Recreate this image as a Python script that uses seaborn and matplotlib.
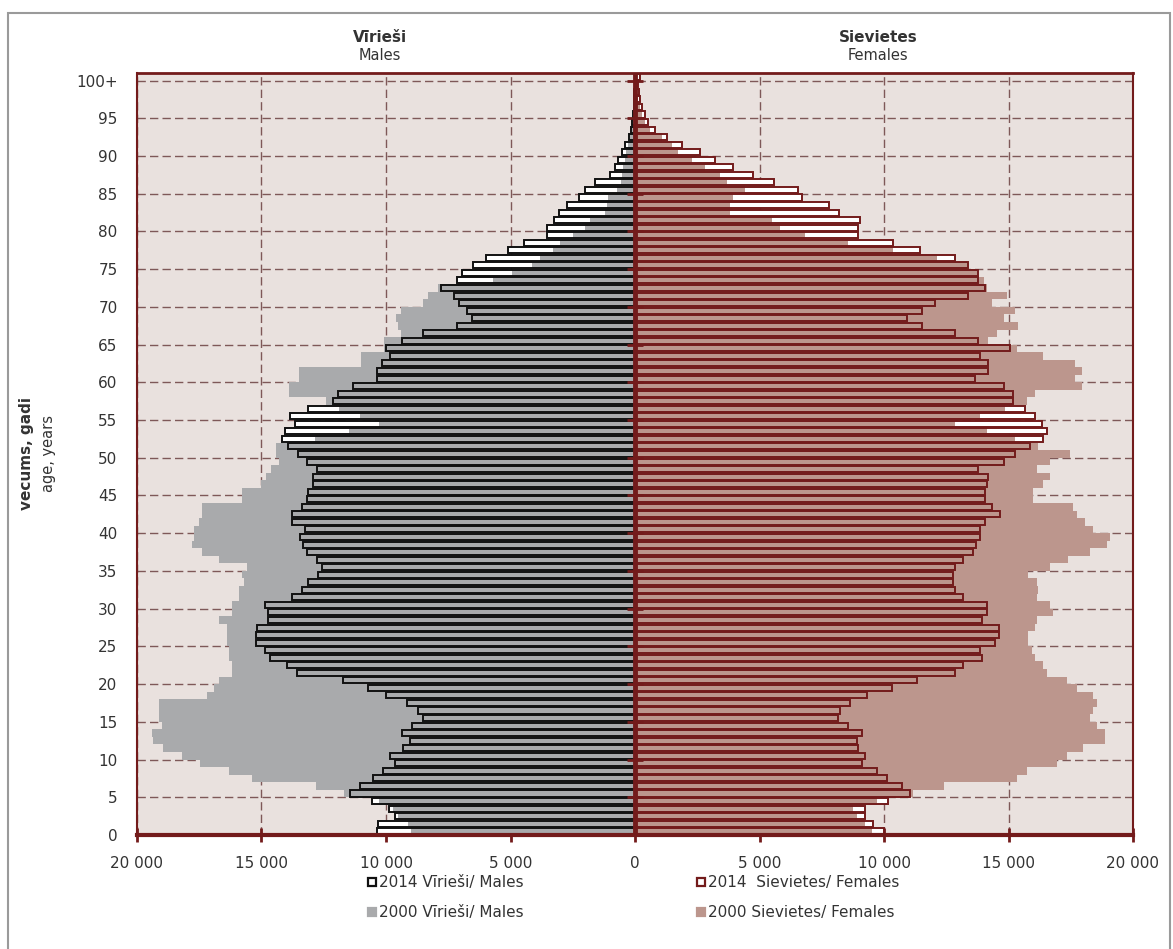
import seaborn as sns
import matplotlib.pyplot as plt
from matplotlib.patches import Rectangle

# population by single year of age, 0 .. 100+
ages = list(range(101))

males_2014 = [10380, 10310, 9640, 9870, 10580, 11450, 11050, 10510, 10110, 9640,
              9840, 9310, 9040, 9370, 8970, 8500, 8700, 9170, 9980, 10710,
              11720, 13590, 13990, 14660, 14860, 15220, 15220, 15200, 14730, 14730,
              14860, 13790, 13390, 13120, 12720, 12590, 12790, 13190, 13320, 13460,
              13260, 13790, 13790, 13390, 13190, 13120, 12920, 12920, 12790, 13190,
              13520, 13930, 14190, 14060, 13660, 13860, 13120, 12120, 11920, 11320,
              10380, 10380, 10180, 9840, 9980, 9370, 8500, 7160, 6560, 6760,
              7080, 7250, 7800, 7130, 6960, 6510, 5970, 5100, 4470, 3550,
              3550, 3250, 3040, 2750, 2260, 2000, 1620, 1000, 800, 670,
              540, 400, 240, 180, 130, 90, 60, 40, 25, 15, 20]

males_2000 = [9000, 9100, 9500, 9700, 10300, 11700, 12800, 15400, 16300, 17470,
              18200, 18950, 19350, 19400, 19000, 19100, 19100, 19100, 17200, 16900,
              16700, 16200, 16200, 16300, 16300, 16400, 16400, 16400, 16700, 16200,
              16200, 15900, 15900, 15700, 15800, 15600, 16700, 17400, 17800, 17700,
              17700, 17500, 17400, 17400, 15800, 15800, 15000, 14800, 14600, 14300,
              14400, 14400, 12850, 11500, 10300, 11050, 11900, 12400, 13900, 13900,
              13500, 13500, 11000, 11000, 10100, 10100, 9400, 9500, 9600, 9400,
              8500, 8300, 7900, 5690, 4950, 4150, 3820, 3280, 3010, 2480,
              2010, 1810, 1200, 1140, 1070, 740, 560, 520, 480, 420,
              350, 280, 200, 140, 95, 65, 40, 25, 15, 10, 10]

females_2014 = [9980, 9570, 9240, 9240, 10180, 11050, 10710, 10110, 9710, 9100,
                9240, 8970, 8900, 9100, 8570, 8170, 8230, 8640, 9310, 10310,
                11310, 12850, 13190, 13930, 13860, 14460, 14600, 14600, 13930, 14130,
                14130, 13190, 12850, 12790, 12790, 12850, 13190, 13590, 13690, 13860,
                13860, 14060, 14660, 14330, 14060, 14060, 14130, 14190, 13790, 14800,
                15260, 15870, 16400, 16540, 16340, 16070, 15670, 15200, 15200, 14800,
                13660, 14190, 14190, 13860, 15060, 13790, 12850, 11520, 10910, 11520,
                12050, 13390, 14060, 13790, 13790, 13390, 12850, 11450, 10350, 8970,
                8970, 9040, 8210, 7810, 6700, 6560, 5580, 4750, 3920, 3210,
                2610, 1875, 1300, 800, 535, 400, 300, 220, 160, 120, 200]

females_2000 = [9500, 9240, 8900, 8770, 9700, 11180, 12390, 15330, 15730, 16940,
                17340, 18010, 18880, 18880, 18550, 18280, 18410, 18550, 18410, 17740,
                17340, 16540, 16400, 16070, 15930, 15800, 15800, 16070, 16130, 16800,
                16670, 16130, 16200, 16130, 15800, 16670, 17400, 18280, 18950, 19080,
                18410, 18080, 17740, 17600, 16000, 16000, 16400, 16670, 16130, 16670,
                17470, 16200, 15260, 14130, 12850, 13860, 14860, 15730, 16070, 17940,
                17670, 17940, 17670, 16400, 15330, 14190, 14530, 15400, 14800, 15260,
                14330, 14930, 14130, 14000, 13730, 13320, 12120, 10380, 8570, 6830,
                5820, 5490, 3820, 3820, 3950, 4420, 3680, 3410, 2810, 2280,
                1740, 1470, 1070, 600, 400, 280, 200, 130, 80, 50, 30]

age_ticks = list(range(0, 101, 5))
age_labels = [str(a) for a in age_ticks[:-1]] + ["100+"]
x_ticks = list(range(-20000, 20001, 5000))

dark_red = "#731B1B"
grey = "#A9AAAC"
rose = "#BC968D"
text_col = "#333333"

W, H = 1173, 949
fig = plt.figure(figsize=(W / 100, H / 100), dpi=100)
ax = fig.add_axes([137 / W, 1 - 835 / H, 996 / W, 762 / H])
ax.set_facecolor("#E9E1DE")

m14 = [-v for v in males_2014]
m00 = [-v for v in males_2000]

# white fill of the 2014 bars, then the 2000 bars, then 2014 outlines on top
for vals in (m14, females_2014):
    sns.barplot(x=vals, y=ages, orient="h", native_scale=True, width=0.8,
                color="white", saturation=1, errorbar=None, linewidth=0,
                ax=ax, zorder=2)
sns.barplot(x=m00, y=ages, orient="h", native_scale=True, width=1.0,
            color=grey, saturation=1, errorbar=None, linewidth=0, ax=ax, zorder=3)
sns.barplot(x=females_2000, y=ages, orient="h", native_scale=True, width=1.0,
            color=rose, saturation=1, errorbar=None, linewidth=0, ax=ax, zorder=3)
sns.barplot(x=m14, y=ages, orient="h", native_scale=True, width=0.8,
            color="#111111", fill=False, saturation=1, errorbar=None,
            linewidth=1.4, ax=ax, zorder=4)
sns.barplot(x=females_2014, y=ages, orient="h", native_scale=True, width=0.8,
            color=dark_red, fill=False, saturation=1, errorbar=None,
            linewidth=1.4, ax=ax, zorder=4)

ax.set_xlim(-20000, 20000)
ax.set_ylim(-0.5, 100.5)
ax.set_yticks([a - 0.5 for a in age_ticks])
ax.set_yticklabels(age_labels)
ax.set_xticks(x_ticks)
ax.set_xticklabels([f"{abs(v):,}".replace(",", " ") for v in x_ticks])
ax.set_xlabel("")
ax.set_ylabel("")

ax.set_axisbelow(True)
ax.grid(True, linestyle=(0, (6, 3)), color="#7E5858", linewidth=1.0)

ax.axvline(0, color=dark_red, lw=3.5, zorder=6)
ax.plot([0] * len(age_ticks), [a - 0.5 for a in age_ticks], ls="none",
        marker="_", ms=12, mew=2, color=dark_red, zorder=7)

for side, lw in (("top", 2), ("left", 1.5), ("right", 1.5), ("bottom", 3)):
    ax.spines[side].set_color(dark_red)
    ax.spines[side].set_linewidth(lw)
    ax.spines[side].set_zorder(8)

ax.tick_params(axis="x", direction="inout", length=10, width=2, color=dark_red,
               labelsize=11, labelcolor=text_col, pad=10)
ax.tick_params(axis="y", length=0, labelsize=11, labelcolor=text_col, pad=14)

# headers
fig.text(380 / W, 1 - 37 / H, "Vīrieši", ha="center", va="center",
         fontsize=11, fontweight="bold", color=text_col)
fig.text(380 / W, 1 - 56 / H, "Males", ha="center", va="center",
         fontsize=10.5, color=text_col)
fig.text(878 / W, 1 - 37 / H, "Sievietes", ha="center", va="center",
         fontsize=11, fontweight="bold", color=text_col)
fig.text(878 / W, 1 - 56 / H, "Females", ha="center", va="center",
         fontsize=10.5, color=text_col)

fig.text(27 / W, 1 - 454 / H, "vecums, gadi", rotation=90, ha="center",
         va="center", fontsize=11, fontweight="bold", color=text_col)
fig.text(48 / W, 1 - 454 / H, "age, years", rotation=90, ha="center",
         va="center", fontsize=10.5, color=text_col)

# legend drawn by hand
legend_rows = [
    (372, 882, "white", "#111111", "2014 Vīrieši/ Males"),
    (701, 882, "white", dark_red, "2014  Sievietes/ Females"),
    (372, 912, grey, grey, "2000 Vīrieši/ Males"),
    (701, 912, rose, rose, "2000 Sievietes/ Females"),
]
for px, py, fc, ec, label in legend_rows:
    fig.patches.append(Rectangle(((px - 4) / W, 1 - (py + 4) / H), 8 / W, 8 / H,
                                 facecolor=fc, edgecolor=ec, lw=1.6,
                                 transform=fig.transFigure, figure=fig))
    fig.text((px + 7) / W, 1 - py / H, label, ha="left", va="center",
             fontsize=11, color=text_col)

# outer frame
fig.patches.append(Rectangle((8 / W, -0.05), 1162 / W, 1.05 - 13 / H,
                             fill=False, edgecolor="#9A9A9A", lw=1.5,
                             transform=fig.transFigure, figure=fig))

fig.savefig("out.png", dpi=100)
